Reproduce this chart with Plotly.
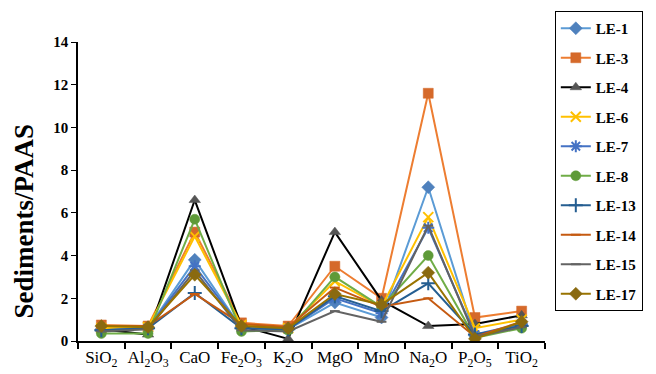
import plotly.graph_objects as go

categories = ["SiO<sub>2</sub>", "Al<sub>2</sub>O<sub>3</sub>", "CaO", "Fe<sub>2</sub>O<sub>3</sub>",
              "K<sub>2</sub>O", "MgO", "MnO", "Na<sub>2</sub>O", "P<sub>2</sub>O<sub>5</sub>", "TiO<sub>2</sub>"]

le1 = [0.55, 0.6, 3.8, 0.6, 0.55, 1.8, 1.1, 7.2, 0.25, 0.75]
le3 = [0.75, 0.7, 5.1, 0.85, 0.7, 3.5, 2.0, 11.6, 1.1, 1.4]
le4 = [0.55, 0.3, 6.6, 0.7, 0.1, 5.1, 1.9, 0.7, 0.8, 1.2]
le6 = [0.6, 0.65, 4.9, 0.75, 0.6, 2.8, 1.6, 5.8, 0.6, 1.0]
le7 = [0.5, 0.6, 3.5, 0.6, 0.55, 2.0, 1.3, 5.3, 0.3, 0.8]
le8 = [0.35, 0.35, 5.7, 0.45, 0.5, 3.0, 1.6, 4.0, 0.15, 0.6]
le13 = [0.5, 0.6, 2.25, 0.6, 0.55, 2.1, 1.4, 2.7, 0.3, 0.7]
le14 = [0.7, 0.7, 2.2, 0.8, 0.65, 2.5, 1.6, 2.0, 0.2, 0.9]
le15 = [0.45, 0.55, 3.3, 0.5, 0.45, 1.4, 0.9, 5.4, 0.2, 0.65]
le17 = [0.7, 0.65, 3.1, 0.7, 0.6, 2.2, 1.7, 3.2, 0.1, 0.9]

y_title = "Sediments/PAAS"

series = [
    ("LE-1", le1, "#5B9BD5", "diamond", "#4F81BD"),
    ("LE-3", le3, "#ED7D31", "square", "#D5692A"),
    ("LE-4", le4, "#000000", "triangle-up", "#555555"),
    ("LE-6", le6, "#FFC000", "x-thin", "#FFC000"),
    ("LE-7", le7, "#4472C4", "asterisk", "#4472C4"),
    ("LE-8", le8, "#70AD47", "circle", "#5E9A38"),
    ("LE-13", le13, "#255E91", "cross-thin", "#255E91"),
    ("LE-14", le14, "#C55A11", "line-ew", "#C55A11"),
    ("LE-15", le15, "#636363", "line-ew", "#636363"),
    ("LE-17", le17, "#997300", "diamond", "#8A6A10"),
]

SERIF = "Liberation Serif"

fig = go.Figure()
for i, (name, vals, col, sym, mcol) in enumerate(series):
    thin = sym in ("x-thin", "asterisk", "cross-thin", "line-ew")
    fig.add_trace(go.Scatter(
        x=categories, y=vals, name="<b>" + name + "</b>", mode="lines+markers",
        legendgroup=f"g{i}",
        line=dict(color=col, width=2),
        marker=dict(symbol=sym, size=10 if sym != "line-ew" else 7, color=mcol,
                    line=dict(color=mcol, width=2 if thin else 0.5)),
    ))

fig.add_annotation(
    text="<b>" + y_title + "</b>", xref="paper", yref="paper",
    x=-0.1156, y=0.40, xanchor="center", yanchor="middle",
    textangle=-90, showarrow=False,
    font=dict(family=SERIF, size=27, color="black"),
)

fig.update_layout(
    width=656, height=374,
    margin=dict(l=78, r=111, t=41, b=33),
    paper_bgcolor="white", plot_bgcolor="white",
    font=dict(family=SERIF, color="black"),
    showlegend=True,
    legend=dict(
        x=1.021, y=1.10, xanchor="left", yanchor="top",
        bordercolor="black", borderwidth=1,
        font=dict(family=SERIF, size=15, color="black"),
        tracegroupgap=7.0,
        itemwidth=30,
        maxheight=360,
    ),
    xaxis=dict(
        type="category", tickson="boundaries", ticks="outside", ticklen=6,
        tickcolor="black", tickwidth=1.5, tickangle=0, automargin=False,
        showline=True, linecolor="black", linewidth=1.5,
        showgrid=False, zeroline=False,
        tickfont=dict(family=SERIF, size=17, color="black"),
        range=[-0.5, 9.5],
    ),
    yaxis=dict(
        range=[0, 14], dtick=2, ticks="outside", ticklen=5, automargin=False,
        tickcolor="black", showline=True, linecolor="black", linewidth=1.5,
        showgrid=False, zeroline=False,
        tickfont=dict(family=SERIF, size=15, color="black", weight="bold"),
    ),
)

fig.write_html("out.html")
